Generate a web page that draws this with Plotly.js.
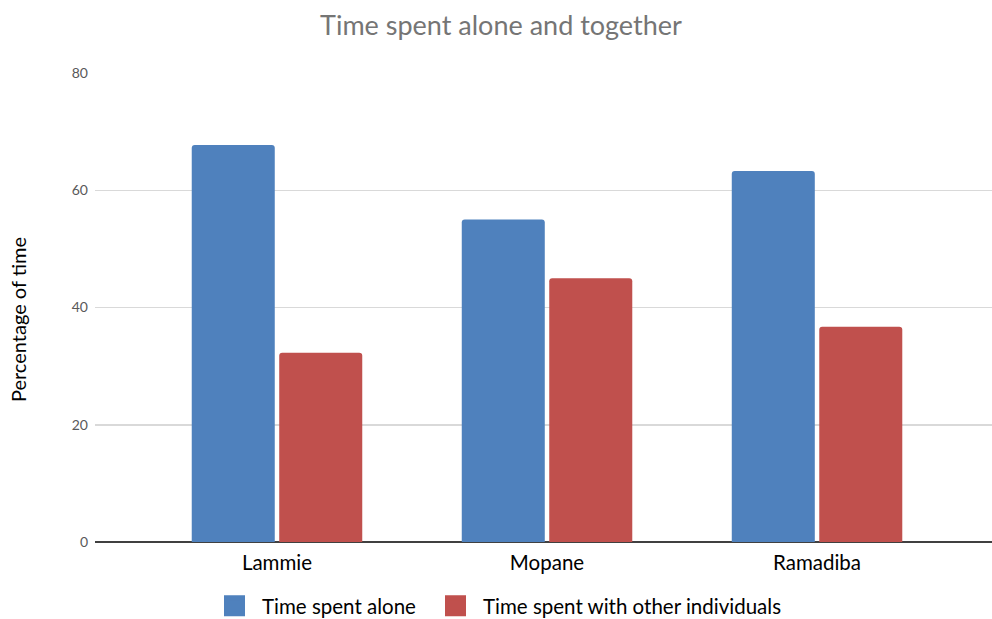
<!DOCTYPE html>
<html>
<head>
<meta charset="utf-8">
<script src="https://cdn.plot.ly/plotly-3.0.1.min.js"></script>
<style>
  html, body { margin: 0; padding: 0; background: #ffffff; }
  #chart { width: 992px; height: 619px; }
</style>
</head>
<body>
<div id="chart"></div>
<script>
// Categories and series values
const animals = ['Lammie', 'Mopane', 'Ramadiba'];
const timeAlone = [67.7, 55.0, 63.3];
const timeTogether = [32.3, 45.0, 36.7];
const seriesNames = ['Time spent alone', 'Time spent with other individuals'];
const seriesColors = ['#4F81BD', '#C0504D'];
const yTicks = [0, 20, 40, 60, 80];

const FONT = 'Lato, "Open Sans", "Liberation Sans", sans-serif';

const seriesValues = [timeAlone, timeTogether];
const legendIds = ['legend', 'legend2'];
// left edge (px) of each legend key block
const legendLeft = [207, 428];

// Bars (legend entries are drawn by the square-marker keys below)
const barTraces = seriesValues.map((vals, i) => ({
  type: 'bar',
  name: seriesNames[i],
  x: animals,
  y: vals,
  marker: { color: seriesColors[i], cornerradius: 3 },
  showlegend: false,
  legendgroup: 's' + i
}));

// Larger square legend keys, one legend box each
const keyTraces = seriesNames.map((name, i) => ({
  type: 'scatter',
  mode: 'markers',
  name: name,
  x: [animals[0]],
  y: [null],
  marker: {
    symbol: 'square',
    size: 16,
    color: seriesColors[i],
    line: { color: seriesColors[i], width: 5 }
  },
  showlegend: true,
  legend: legendIds[i],
  legendgroup: 's' + i,
  hoverinfo: 'skip'
}));

function legendBox(i) {
  return {
    orientation: 'h',
    xref: 'container',
    yref: 'container',
    x: legendLeft[i] / 992,
    xanchor: 'left',
    y: 1 - 606 / 619,
    yanchor: 'middle',
    font: { family: FONT, size: 20.5, color: '#000000' },
    itemwidth: 45,
    itemclick: false,
    itemdoubleclick: false,
    bgcolor: 'rgba(0,0,0,0)'
  };
}

const layout = {
  width: 992,
  height: 619,
  margin: { l: 95, r: 0, t: 72.5, b: 76.7, pad: 0 },
  paper_bgcolor: '#ffffff',
  plot_bgcolor: '#ffffff',
  font: { family: FONT, color: '#000000', size: 16 },
  title: {
    text: 'Time spent alone and together',
    font: { family: FONT, size: 27, color: '#757575' },
    x: 0.505,
    xanchor: 'center',
    xref: 'container',
    y: 1 - 26 / 619,
    yanchor: 'middle',
    yref: 'container'
  },
  barmode: 'group',
  bargap: 0.352,
  bargroupgap: 0.051,
  xaxis: {
    type: 'category',
    range: [-0.674, 2.648],
    showgrid: false,
    showline: false,
    zeroline: false,
    ticks: '',
    tickfont: { family: FONT, size: 20.5, color: '#000000' },
    ticklabelstandoff: 6,
    fixedrange: true
  },
  yaxis: {
    range: [0, 80],
    tickvals: yTicks,
    ticktext: yTicks.map(String),
    showgrid: true,
    gridcolor: '#d9d9d9',
    gridwidth: 1.5,
    zeroline: true,
    zerolinecolor: '#404040',
    zerolinewidth: 2,
    showline: false,
    ticks: '',
    tickfont: { family: FONT, size: 14, color: '#595959' },
    ticklabelstandoff: 6,
    fixedrange: true
  },
  showlegend: true,
  legend: legendBox(0),
  legend2: legendBox(1),
  annotations: [
    {
      text: 'Percentage of time',
      textangle: -90,
      xref: 'paper',
      yref: 'paper',
      x: (18 - 95) / 897,
      y: (542.3 - 320) / 469.8,
      xanchor: 'center',
      yanchor: 'middle',
      showarrow: false,
      font: { family: FONT, size: 20, color: '#000000' }
    }
  ]
};

Plotly.newPlot('chart', barTraces.concat(keyTraces), layout, { displayModeBar: false, staticPlot: true });
</script>
</body>
</html>
